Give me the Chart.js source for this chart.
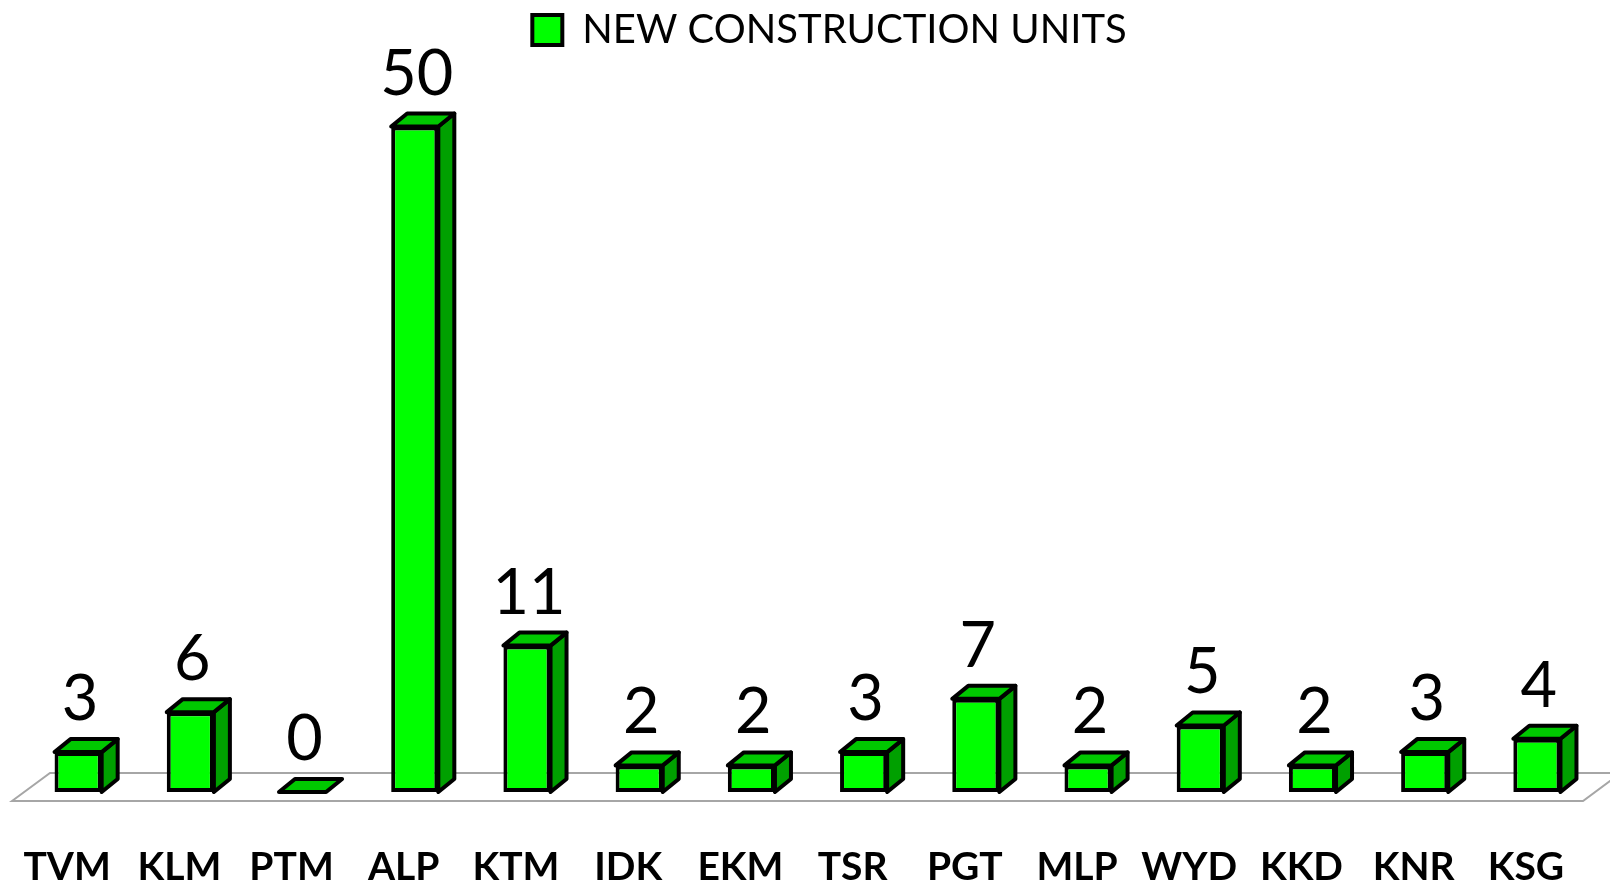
<!DOCTYPE html>
<html>
<head>
<meta charset="utf-8">
<title>New construction units</title>
<script src="https://cdn.jsdelivr.net/npm/chart.js@4/dist/chart.umd.min.js"></script>
<style>
    html, body { margin: 0; padding: 0; background: #ffffff; }
    #wrap { width: 1610px; height: 884px; position: relative; }
</style>
</head>
<body>
<div id="wrap"><canvas id="unitsChart"></canvas></div>
<script>
// Data
const districts = ['TVM', 'KLM', 'PTM', 'ALP', 'KTM', 'IDK', 'EKM', 'TSR', 'PGT', 'MLP', 'WYD', 'KKD', 'KNR', 'KSG'];
const newUnits = [3, 6, 0, 50, 11, 2, 2, 3, 7, 2, 5, 2, 3, 4];
const seriesName = 'NEW CONSTRUCTION UNITS';

const FONT = 'Lato, "Open Sans", sans-serif';
const FRONT = '#00ff00';
const TOP = '#00c800';
const SIDE = '#00a000';
const DEPTH_X = 16;
const DEPTH_Y = -13;

// floor plate under the bars
const floorPlugin = {
    id: 'floor3d',
    beforeDatasetsDraw(chart) {
        const ctx = chart.ctx;
        const area = chart.chartArea;
        const y0 = chart.scales.y.getPixelForValue(0);
        const fx = area.left - 10;
        const rx = area.right - 10;
        const fy = y0 + 9;
        ctx.save();
        ctx.strokeStyle = '#a6a6a6';
        ctx.lineWidth = 2;
        ctx.beginPath();
        ctx.moveTo(fx, fy);
        ctx.lineTo(fx + 38, fy - 28);
        ctx.lineTo(rx + 38, fy - 28);
        ctx.lineTo(rx, fy);
        ctx.closePath();
        ctx.stroke();
        ctx.restore();
    }
};

// legend sits a little right of centre in the original
const legendShift = {
    id: 'legendShift',
    afterLayout(chart) {
        if (chart.legend) {
            chart.legend.left += 22;
            chart.legend.right += 22;
        }
    }
};

// top and side faces of each bar, then the value above it
const boxPlugin = {
    id: 'box3d',
    afterDatasetsDraw(chart) {
        const ctx = chart.ctx;
        const meta = chart.getDatasetMeta(0);
        ctx.save();
        ctx.lineWidth = 4;
        ctx.lineJoin = 'round';
        ctx.strokeStyle = '#000000';
        meta.data.forEach((bar, i) => {
            const p = bar.getProps(['x', 'y', 'base', 'width'], true);
            const L = p.x - p.width / 2;
            const R = p.x + p.width / 2;
            const top = p.y;
            const bottom = p.base;

            // side face
            if (bottom - top > 0.5) {
                ctx.beginPath();
                ctx.moveTo(R, top);
                ctx.lineTo(R + DEPTH_X, top + DEPTH_Y);
                ctx.lineTo(R + DEPTH_X, bottom + DEPTH_Y);
                ctx.lineTo(R, bottom);
                ctx.closePath();
                ctx.fillStyle = SIDE;
                ctx.fill();
                ctx.stroke();
            }

            // top face
            ctx.beginPath();
            ctx.moveTo(L, top);
            ctx.lineTo(L + DEPTH_X, top + DEPTH_Y);
            ctx.lineTo(R + DEPTH_X, top + DEPTH_Y);
            ctx.lineTo(R, top);
            ctx.closePath();
            ctx.fillStyle = TOP;
            ctx.fill();
            ctx.stroke();

            // value label
            ctx.fillStyle = '#000000';
            ctx.font = '63px ' + FONT;
            ctx.textAlign = 'center';
            ctx.textBaseline = 'alphabetic';
            ctx.fillText(String(newUnits[i]), p.x + 2, top + DEPTH_Y - 19);
        });
        ctx.restore();
    }
};

const ctx = document.getElementById('unitsChart');

new Chart(ctx, {
    type: 'bar',
    data: {
        labels: districts,
        datasets: [{
            label: seriesName,
            data: newUnits,
            backgroundColor: FRONT,
            borderColor: '#000000',
            borderWidth: 4,
            borderSkipped: false,
            barPercentage: 0.84,
            categoryPercentage: 0.5
        }]
    },
    options: {
        responsive: true,
        maintainAspectRatio: false,
        animation: false,
        devicePixelRatio: 1,
        layout: {
            padding: { left: 22, right: 17, top: 0, bottom: 0 }
        },
        plugins: {
            legend: {
                position: 'top',
                labels: {
                    color: '#000000',
                    font: { family: FONT, size: 40 },
                    boxWidth: 30,
                    boxHeight: 30,
                    padding: 10
                }
            },
            tooltip: { enabled: false }
        },
        scales: {
            x: {
                grid: { display: false },
                border: { display: false },
                ticks: {
                    color: '#000000',
                    font: { family: FONT, size: 39, weight: 'bold' },
                    labelOffset: -11,
                    padding: 44,
                    maxRotation: 0,
                    autoSkip: false
                },
                afterFit(scale) {
                    scale.height = 92;
                    scale.paddingLeft = 0;
                    scale.paddingRight = 0;
                }
            },
            y: {
                display: false,
                min: 0,
                max: 55
            }
        }
    },
    plugins: [floorPlugin, legendShift, boxPlugin]
});
</script>
</body>
</html>
